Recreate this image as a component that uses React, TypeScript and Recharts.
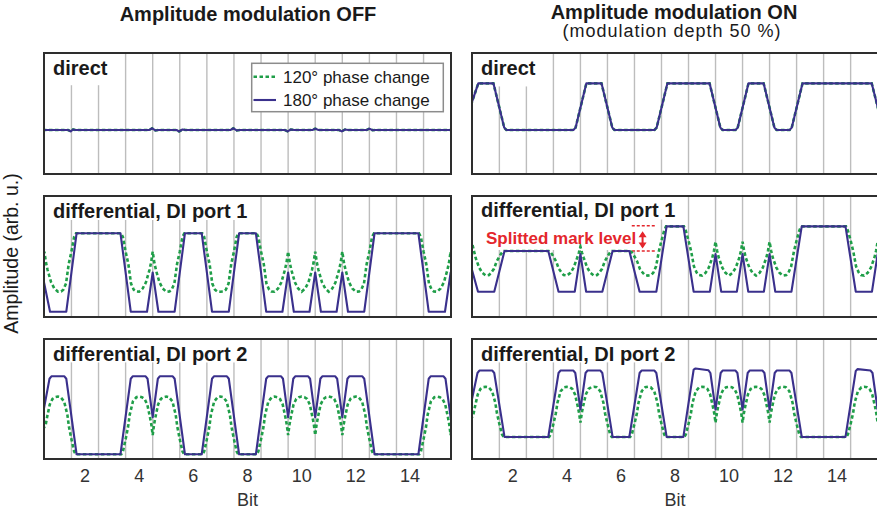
import React from "react";
import { LineChart, Line, XAxis, YAxis, ReferenceLine, ReferenceDot } from "recharts";

type Pt = [number, number];

// bit axis
const bitDomain: [number, number] = [0.45, 15.55];
const bitTicks = [2, 4, 6, 8, 10, 12, 14];
const bitBounds = [1.5, 2.5, 3.5, 4.5, 5.5, 6.5, 7.5, 8.5, 9.5, 10.5, 11.5, 12.5, 13.5, 14.5];

// direct detection, AM off (both phase changes overlap)
const offDirect: Pt[] = [
  [0.45, 0.366], [1.38, 0.366], [1.47, 0.354], [1.56, 0.37], [1.66, 0.366], [4.38, 0.366], [4.48, 0.38],
  [4.6, 0.362], [4.72, 0.366], [5.38, 0.366], [5.48, 0.354], [5.6, 0.37], [5.72, 0.366], [7.38, 0.366],
  [7.48, 0.38], [7.6, 0.362], [7.72, 0.366], [9.38, 0.366], [9.48, 0.355], [9.6, 0.37], [9.72, 0.366],
  [10.4, 0.366], [10.5, 0.377], [10.62, 0.366], [11.38, 0.366], [11.48, 0.355], [11.6, 0.37], [11.72, 0.366],
  [12.4, 0.366], [12.5, 0.377], [12.62, 0.364], [12.74, 0.366], [15.55, 0.366],
];

// direct detection, AM on
const onDirect: Pt[] = [
  [0.45, 0.57], [0.72, 0.745], [1.28, 0.745], [1.68, 0.385], [1.76, 0.366], [4.24, 0.366], [4.32, 0.385],
  [4.72, 0.745], [5.28, 0.745], [5.68, 0.385], [5.76, 0.366], [7.24, 0.366], [7.32, 0.385], [7.72, 0.745],
  [9.28, 0.745], [9.68, 0.385], [9.76, 0.366], [10.24, 0.366], [10.32, 0.385], [10.72, 0.745], [11.28, 0.745],
  [11.68, 0.385], [11.76, 0.366], [12.24, 0.366], [12.32, 0.385], [12.72, 0.745], [15.28, 0.745], [15.55, 0.51],
];

// DI port 1, AM off
const offP1Navy: Pt[] = [
  [0.45, 0.33], [0.71, 0.051], [1.31, 0.051], [1.69, 0.689], [3.31, 0.689], [3.69, 0.051], [4.29, 0.051],
  [4.5, 0.37], [4.71, 0.051], [5.31, 0.051], [5.69, 0.689], [6.31, 0.689], [6.69, 0.051], [7.31, 0.051],
  [7.69, 0.689], [8.31, 0.689], [8.69, 0.051], [9.29, 0.051], [9.5, 0.37], [9.71, 0.051], [10.29, 0.051],
  [10.5, 0.37], [10.71, 0.051], [11.29, 0.051], [11.5, 0.37], [11.71, 0.051], [12.31, 0.051], [12.69, 0.689],
  [14.31, 0.689], [14.69, 0.051], [15.29, 0.051], [15.5, 0.37], [15.55, 0.3],
];
const offP1Green: Pt[] = [
  [0.45, 0.48], [0.5, 0.54], [0.56, 0.45], [0.62, 0.39], [0.75, 0.29], [0.87, 0.24], [1.0, 0.214], [1.12, 0.216],
  [1.2, 0.23], [1.3, 0.28], [1.4, 0.44], [1.5, 0.54], [1.6, 0.66], [1.67, 0.689], [3.33, 0.689], [3.4, 0.66],
  [3.5, 0.54], [3.6, 0.44], [3.7, 0.28], [3.8, 0.23], [3.88, 0.216], [4.0, 0.214], [4.13, 0.24], [4.25, 0.29],
  [4.38, 0.39], [4.44, 0.45], [4.5, 0.54], [4.56, 0.45], [4.62, 0.39], [4.75, 0.29], [4.87, 0.24], [5.0, 0.214],
  [5.12, 0.216], [5.2, 0.23], [5.3, 0.28], [5.4, 0.44], [5.5, 0.54], [5.6, 0.66], [5.67, 0.689], [6.33, 0.689],
  [6.4, 0.66], [6.5, 0.54], [6.6, 0.44], [6.7, 0.28], [6.8, 0.23], [6.88, 0.216], [7.0, 0.214], [7.12, 0.216],
  [7.2, 0.23], [7.3, 0.28], [7.4, 0.44], [7.5, 0.54], [7.6, 0.66], [7.67, 0.689], [8.33, 0.689], [8.4, 0.66],
  [8.5, 0.54], [8.6, 0.44], [8.7, 0.28], [8.8, 0.23], [8.88, 0.216], [9.0, 0.214], [9.13, 0.24], [9.25, 0.29],
  [9.38, 0.39], [9.44, 0.45], [9.5, 0.54], [9.56, 0.45], [9.62, 0.39], [9.75, 0.29], [9.87, 0.24], [10.0, 0.214],
  [10.13, 0.24], [10.25, 0.29], [10.38, 0.39], [10.44, 0.45], [10.5, 0.54], [10.56, 0.45], [10.62, 0.39],
  [10.75, 0.29], [10.87, 0.24], [11.0, 0.214], [11.13, 0.24], [11.25, 0.29], [11.38, 0.39], [11.44, 0.45],
  [11.5, 0.54], [11.56, 0.45], [11.62, 0.39], [11.75, 0.29], [11.87, 0.24], [12.0, 0.214], [12.12, 0.216],
  [12.2, 0.23], [12.3, 0.28], [12.4, 0.44], [12.5, 0.54], [12.6, 0.66], [12.67, 0.689], [14.33, 0.689],
  [14.4, 0.66], [14.5, 0.54], [14.6, 0.44], [14.7, 0.28], [14.8, 0.23], [14.88, 0.216], [15.0, 0.214],
  [15.13, 0.24], [15.25, 0.29], [15.38, 0.39], [15.44, 0.45], [15.5, 0.54], [15.55, 0.46],
];

// DI port 2, AM off
const offP2Navy: Pt[] = [
  [0.45, 0.38], [0.69, 0.666], [0.76, 0.686], [1.24, 0.686], [1.31, 0.666], [1.69, 0.047], [3.31, 0.047],
  [3.69, 0.666], [3.76, 0.686], [4.24, 0.686], [4.31, 0.666], [4.5, 0.35], [4.69, 0.666], [4.76, 0.686],
  [5.24, 0.686], [5.31, 0.666], [5.69, 0.047], [6.31, 0.047], [6.69, 0.666], [6.76, 0.686], [7.24, 0.686],
  [7.31, 0.666], [7.69, 0.047], [8.31, 0.047], [8.69, 0.666], [8.76, 0.686], [9.24, 0.686], [9.31, 0.666],
  [9.5, 0.35], [9.69, 0.666], [9.76, 0.686], [10.24, 0.686], [10.31, 0.666], [10.5, 0.35], [10.69, 0.666],
  [10.76, 0.686], [11.24, 0.686], [11.31, 0.666], [11.5, 0.35], [11.69, 0.666], [11.76, 0.686], [12.24, 0.686],
  [12.31, 0.666], [12.69, 0.047], [14.31, 0.047], [14.69, 0.666], [14.76, 0.686], [15.24, 0.686], [15.31, 0.666],
  [15.5, 0.35], [15.55, 0.43],
];
const offP2Green: Pt[] = [
  [0.45, 0.25], [0.55, 0.29], [0.6, 0.35], [0.7, 0.455], [0.8, 0.5], [0.9, 0.515], [1.0, 0.52], [1.1, 0.515],
  [1.23, 0.48], [1.35, 0.37], [1.41, 0.27], [1.5, 0.17], [1.6, 0.07], [1.66, 0.047], [3.34, 0.047], [3.4, 0.07],
  [3.5, 0.17], [3.59, 0.27], [3.65, 0.37], [3.77, 0.48], [3.9, 0.515], [4.0, 0.52], [4.1, 0.515], [4.2, 0.5],
  [4.3, 0.455], [4.4, 0.35], [4.45, 0.29], [4.5, 0.204], [4.55, 0.29], [4.6, 0.35], [4.7, 0.455], [4.8, 0.5],
  [4.9, 0.515], [5.0, 0.52], [5.1, 0.515], [5.23, 0.48], [5.35, 0.37], [5.41, 0.27], [5.5, 0.17], [5.6, 0.07],
  [5.66, 0.047], [6.34, 0.047], [6.4, 0.07], [6.5, 0.17], [6.59, 0.27], [6.65, 0.37], [6.77, 0.48], [6.9, 0.515],
  [7.0, 0.52], [7.1, 0.515], [7.23, 0.48], [7.35, 0.37], [7.41, 0.27], [7.5, 0.17], [7.6, 0.07], [7.66, 0.047],
  [8.34, 0.047], [8.4, 0.07], [8.5, 0.17], [8.59, 0.27], [8.65, 0.37], [8.77, 0.48], [8.9, 0.515], [9.0, 0.52],
  [9.1, 0.515], [9.2, 0.5], [9.3, 0.455], [9.4, 0.35], [9.45, 0.29], [9.5, 0.204], [9.55, 0.29], [9.6, 0.35],
  [9.7, 0.455], [9.8, 0.5], [9.9, 0.515], [10.0, 0.52], [10.1, 0.515], [10.2, 0.5], [10.3, 0.455], [10.4, 0.35],
  [10.45, 0.29], [10.5, 0.204], [10.55, 0.29], [10.6, 0.35], [10.7, 0.455], [10.8, 0.5], [10.9, 0.515],
  [11.0, 0.52], [11.1, 0.515], [11.2, 0.5], [11.3, 0.455], [11.4, 0.35], [11.45, 0.29], [11.5, 0.204],
  [11.55, 0.29], [11.6, 0.35], [11.7, 0.455], [11.8, 0.5], [11.9, 0.515], [12.0, 0.52], [12.1, 0.515],
  [12.23, 0.48], [12.35, 0.37], [12.41, 0.27], [12.5, 0.17], [12.6, 0.07], [12.66, 0.047], [14.34, 0.047],
  [14.4, 0.07], [14.5, 0.17], [14.59, 0.27], [14.65, 0.37], [14.77, 0.48], [14.9, 0.515], [15.0, 0.52],
  [15.1, 0.515], [15.2, 0.5], [15.3, 0.455], [15.4, 0.35], [15.45, 0.29], [15.5, 0.204], [15.55, 0.29],
];

// DI port 1, AM on
const onP1Navy: Pt[] = [
  [0.45, 0.42], [0.71, 0.214], [1.31, 0.214], [1.69, 0.545], [3.31, 0.545], [3.69, 0.214], [4.29, 0.214],
  [4.5, 0.52], [4.71, 0.214], [5.31, 0.214], [5.69, 0.545], [6.31, 0.545], [6.69, 0.214], [7.31, 0.214],
  [7.69, 0.745], [8.31, 0.745], [8.69, 0.214], [9.29, 0.214], [9.5, 0.52], [9.71, 0.214], [10.29, 0.214],
  [10.5, 0.52], [10.71, 0.214], [11.29, 0.214], [11.5, 0.52], [11.71, 0.214], [12.31, 0.214], [12.69, 0.745],
  [14.31, 0.745], [14.69, 0.214], [15.29, 0.214], [15.5, 0.52], [15.55, 0.44],
];
const onP1Green: Pt[] = [
  [0.45, 0.56], [0.5, 0.6], [0.56, 0.545], [0.62, 0.49], [0.75, 0.41], [0.87, 0.367], [1.0, 0.345], [1.12, 0.35],
  [1.2, 0.37], [1.3, 0.4], [1.4, 0.46], [1.5, 0.5], [1.6, 0.535], [1.67, 0.545], [3.33, 0.545], [3.4, 0.535],
  [3.5, 0.5], [3.6, 0.46], [3.7, 0.4], [3.8, 0.37], [3.88, 0.35], [4.0, 0.345], [4.13, 0.367], [4.25, 0.41],
  [4.38, 0.49], [4.44, 0.53], [4.5, 0.58], [4.56, 0.53], [4.62, 0.49], [4.75, 0.41], [4.87, 0.367], [5.0, 0.345],
  [5.12, 0.35], [5.2, 0.37], [5.3, 0.4], [5.4, 0.46], [5.5, 0.5], [5.6, 0.535], [5.67, 0.545], [6.33, 0.545],
  [6.4, 0.535], [6.5, 0.5], [6.6, 0.46], [6.7, 0.4], [6.8, 0.37], [6.88, 0.35], [7.0, 0.345], [7.12, 0.35],
  [7.2, 0.37], [7.3, 0.42], [7.4, 0.54], [7.5, 0.63], [7.6, 0.71], [7.67, 0.745], [8.33, 0.745], [8.4, 0.71],
  [8.5, 0.63], [8.6, 0.54], [8.7, 0.42], [8.8, 0.37], [8.88, 0.35], [9.0, 0.345], [9.13, 0.367], [9.25, 0.41],
  [9.38, 0.49], [9.44, 0.545], [9.5, 0.62], [9.56, 0.545], [9.62, 0.49], [9.75, 0.41], [9.87, 0.367], [10.0, 0.345],
  [10.13, 0.367], [10.25, 0.41], [10.38, 0.49], [10.44, 0.545], [10.5, 0.62], [10.56, 0.545], [10.62, 0.49],
  [10.75, 0.41], [10.87, 0.367], [11.0, 0.345], [11.13, 0.367], [11.25, 0.41], [11.38, 0.49], [11.44, 0.545],
  [11.5, 0.62], [11.56, 0.545], [11.62, 0.49], [11.75, 0.41], [11.87, 0.367], [12.0, 0.345], [12.12, 0.35],
  [12.2, 0.37], [12.3, 0.42], [12.4, 0.54], [12.5, 0.63], [12.6, 0.71], [12.67, 0.745], [14.33, 0.745],
  [14.4, 0.71], [14.5, 0.63], [14.6, 0.54], [14.7, 0.42], [14.8, 0.37], [14.88, 0.35], [15.0, 0.345],
  [15.13, 0.367], [15.25, 0.41], [15.38, 0.49], [15.44, 0.545], [15.5, 0.62], [15.55, 0.56],
];

// DI port 2, AM on
const onP2Navy: Pt[] = [
  [0.45, 0.46], [0.69, 0.713], [0.76, 0.733], [1.24, 0.733], [1.31, 0.713], [1.69, 0.189], [3.31, 0.189],
  [3.69, 0.713], [3.76, 0.733], [4.24, 0.733], [4.31, 0.713], [4.5, 0.414], [4.69, 0.713], [4.76, 0.733],
  [5.24, 0.733], [5.31, 0.713], [5.69, 0.189], [6.31, 0.189], [6.69, 0.713], [6.76, 0.733], [7.24, 0.733],
  [7.31, 0.713], [7.69, 0.189], [8.31, 0.189], [8.69, 0.74], [8.76, 0.75], [9.24, 0.735], [9.31, 0.713],
  [9.5, 0.414], [9.69, 0.713], [9.76, 0.733], [10.24, 0.733], [10.31, 0.713], [10.5, 0.414], [10.69, 0.713],
  [10.76, 0.733], [11.24, 0.733], [11.31, 0.713], [11.5, 0.414], [11.69, 0.713], [11.76, 0.733], [12.24, 0.733],
  [12.31, 0.713], [12.69, 0.189], [14.31, 0.189], [14.69, 0.73], [14.76, 0.745], [15.24, 0.733], [15.31, 0.713],
  [15.5, 0.414], [15.55, 0.5],
];
const onP2Green: Pt[] = [
  [0.45, 0.33], [0.55, 0.385], [0.6, 0.44], [0.7, 0.538], [0.8, 0.582], [0.9, 0.597], [1.0, 0.6], [1.1, 0.596],
  [1.23, 0.565], [1.35, 0.47], [1.41, 0.383], [1.5, 0.296], [1.6, 0.209], [1.66, 0.189], [3.34, 0.189],
  [3.4, 0.209], [3.5, 0.296], [3.59, 0.383], [3.65, 0.47], [3.77, 0.565], [3.9, 0.596], [4.0, 0.6], [4.1, 0.597],
  [4.2, 0.582], [4.3, 0.538], [4.4, 0.44], [4.45, 0.385], [4.5, 0.306], [4.55, 0.385], [4.6, 0.44], [4.7, 0.538],
  [4.8, 0.582], [4.9, 0.597], [5.0, 0.6], [5.1, 0.596], [5.23, 0.565], [5.35, 0.47], [5.41, 0.383], [5.5, 0.296],
  [5.6, 0.209], [5.66, 0.189], [6.34, 0.189], [6.4, 0.209], [6.5, 0.296], [6.59, 0.383], [6.65, 0.47],
  [6.77, 0.565], [6.9, 0.596], [7.0, 0.6], [7.1, 0.596], [7.23, 0.565], [7.35, 0.47], [7.41, 0.383], [7.5, 0.296],
  [7.6, 0.209], [7.66, 0.189], [8.34, 0.189], [8.4, 0.209], [8.5, 0.296], [8.59, 0.383], [8.65, 0.47],
  [8.77, 0.565], [8.9, 0.596], [9.0, 0.6], [9.1, 0.597], [9.2, 0.582], [9.3, 0.538], [9.4, 0.44], [9.45, 0.385],
  [9.5, 0.306], [9.55, 0.385], [9.6, 0.44], [9.7, 0.538], [9.8, 0.582], [9.9, 0.597], [10.0, 0.6], [10.1, 0.597],
  [10.2, 0.582], [10.3, 0.538], [10.4, 0.44], [10.45, 0.385], [10.5, 0.306], [10.55, 0.385], [10.6, 0.44],
  [10.7, 0.538], [10.8, 0.582], [10.9, 0.597], [11.0, 0.6], [11.1, 0.597], [11.2, 0.582], [11.3, 0.538],
  [11.4, 0.44], [11.45, 0.385], [11.5, 0.306], [11.55, 0.385], [11.6, 0.44], [11.7, 0.538], [11.8, 0.582],
  [11.9, 0.597], [12.0, 0.6], [12.1, 0.596], [12.23, 0.565], [12.35, 0.47], [12.41, 0.383], [12.5, 0.296],
  [12.6, 0.209], [12.66, 0.189], [14.34, 0.189], [14.4, 0.209], [14.5, 0.296], [14.59, 0.383], [14.65, 0.47],
  [14.77, 0.565], [14.9, 0.596], [15.0, 0.6], [15.1, 0.597], [15.2, 0.582], [15.3, 0.538], [15.4, 0.44],
  [15.45, 0.385], [15.5, 0.306], [15.55, 0.385],
];

const NAVY = "#3a308c";
const GREEN = "#1f9e48";
const RED = "#e4262c";
const FONT = "'Liberation Sans', Arial, Helvetica, sans-serif";

const toRows = (pts: Pt[]) => pts.map(([x, y]) => ({ x, y }));

interface PanelProps {
  left: number;
  top: number;
  width: number;
  height: number;
  navy: Pt[];
  green: Pt[];
  caps: Array<[number, number]>; // gridlines left of x stop at y (under the labels)
  showAxis?: boolean;
  children?: React.ReactNode;
}

function Panel({ left, top, width, height, navy, green, caps, showAxis = false, children }: PanelProps) {
  const axisH = showAxis ? 53 : 0;
  const capFor = (x: number) => {
    for (const [xm, yt] of caps) if (x < xm) return yt;
    return 1;
  };
  return (
    <div style={{ position: "absolute", left, top, width, height: height + axisH }}>
      <LineChart width={width} height={height + axisH} margin={{ top: 0, right: 0, bottom: 0, left: 0 }}>
        <XAxis
          type="number"
          dataKey="x"
          domain={bitDomain}
          allowDataOverflow
          ticks={bitTicks}
          interval={0}
          hide={!showAxis}
          height={axisH}
          axisLine={false}
          tickLine={false}
          tickMargin={3}
          tick={{ fontSize: 18, fill: "#333" }}
          label={showAxis ? { value: "Bit", position: "insideBottom", offset: 7, fontSize: 18, fill: "#333" } : undefined}
        />
        <YAxis type="number" domain={[0, 1]} hide allowDataOverflow />
        {bitBounds.map((b) => (
          <ReferenceLine
            key={b}
            segment={[{ x: b, y: 0 }, { x: b, y: capFor(b) }]}
            stroke="#bdbdbd"
            strokeWidth={1.4}
          />
        ))}
        {children}
        <Line
          data={toRows(green)}
          dataKey="y"
          type="linear"
          stroke={GREEN}
          strokeWidth={2.6}
          strokeDasharray="3.5 2.5"
          dot={false}
          isAnimationActive={false}
        />
        <Line
          data={toRows(navy)}
          dataKey="y"
          type="linear"
          stroke={NAVY}
          strokeWidth={2.1}
          strokeLinejoin="round"
          dot={false}
          isAnimationActive={false}
        />
      </LineChart>
      <div
        style={{
          position: "absolute",
          left: 0,
          top: 0,
          width,
          height,
          border: "2px solid #2e2e2e",
          boxSizing: "border-box",
          pointerEvents: "none",
        }}
      />
    </div>
  );
}

const arrowUp = (p: any) => <path d={`M${p.cx},${p.cy}L${p.cx - 4},${p.cy + 6}L${p.cx + 4},${p.cy + 6}Z`} fill={RED} />;
const arrowDown = (p: any) => <path d={`M${p.cx},${p.cy}L${p.cx - 4},${p.cy - 6}L${p.cx + 4},${p.cy - 6}Z`} fill={RED} />;

export default function App() {
  const L = 43;
  const R = 471;
  const W = 409;
  const rows = [52, 195, 338];
  const labelStyle = { fontSize: 20, fontWeight: 700, fill: "#1a1a1a" } as const;
  return (
    <div
      style={{
        position: "absolute",
        left: 0,
        top: 0,
        width: 877,
        height: 516,
        overflow: "hidden",
        background: "#fff",
        fontFamily: FONT,
      }}
    >
      <Panel left={L} top={rows[0]} width={W} height={123} navy={offDirect} green={offDirect} caps={[[3, 0.73]]} />
      <Panel left={L} top={rows[1]} width={W} height={123} navy={offP1Navy} green={offP1Green} caps={[[8, 0.797]]} />
      <Panel left={L} top={rows[2]} width={W} height={122} navy={offP2Navy} green={offP2Green} caps={[[8, 0.8]]} showAxis />

      <Panel left={R} top={rows[0]} width={408} height={123} navy={onDirect} green={onDirect} caps={[[3, 0.72]]} />
      <Panel
        left={R}
        top={rows[1]}
        width={408}
        height={123}
        navy={onP1Navy}
        green={onP1Green}
        caps={[[7, 0.553], [8, 0.8]]}
      >
        <ReferenceLine segment={[{ x: 6.4, y: 0.75 }, { x: 7.32, y: 0.75 }]} stroke={RED} strokeWidth={1.6} strokeDasharray="3 2" />
        <ReferenceLine segment={[{ x: 6.4, y: 0.545 }, { x: 7.32, y: 0.545 }]} stroke={RED} strokeWidth={1.6} strokeDasharray="3 2" />
        <ReferenceLine segment={[{ x: 6.8, y: 0.69 }, { x: 6.8, y: 0.58 }]} stroke={RED} strokeWidth={2} />
        <ReferenceDot x={6.8} y={0.705} r={3} shape={arrowUp} />
        <ReferenceDot x={6.8} y={0.565} r={3} shape={arrowDown} />
      </Panel>
      <Panel left={R} top={rows[2]} width={408} height={122} navy={onP2Navy} green={onP2Green} caps={[[8, 0.8]]} showAxis />

      <svg
        width={877}
        height={516}
        style={{ position: "absolute", left: 0, top: 0, pointerEvents: "none", fontFamily: FONT }}
      >
        <text x={248} y={21} textAnchor="middle" {...labelStyle}>Amplitude modulation OFF</text>
        <text x={674} y={18.5} textAnchor="middle" {...labelStyle}>Amplitude modulation ON</text>
        <text x={672} y={37} textAnchor="middle" fontSize={18} fill="#1a1a1a" letterSpacing={1}>
          (modulation depth 50 %)
        </text>
        <text transform="translate(17.5,253.5) rotate(-90)" textAnchor="middle" fontSize={19.5} fill="#1a1a1a">
          Amplitude (arb. u.)
        </text>

        <text x={53} y={75} {...labelStyle}>direct</text>
        <text x={53} y={218} {...labelStyle}>differential, DI port 1</text>
        <text x={53} y={361} {...labelStyle}>differential, DI port 2</text>
        <text x={481} y={75} {...labelStyle}>direct</text>
        <text x={481} y={217} {...labelStyle}>differential, DI port 1</text>
        <text x={481} y={361} {...labelStyle}>differential, DI port 2</text>

        <text x={486} y={243.5} fontSize={17} fontWeight={700} fill={RED}>Splitted mark level</text>

        <g>
          <rect x={251.7} y={63.3} width={191.6} height={48.4} fill="#fff" stroke="#8c8c8c" strokeWidth={1.5} />
          <line x1={253.5} x2={276} y1={76.7} y2={76.7} stroke={GREEN} strokeWidth={2.6} strokeDasharray="3.5 2.5" />
          <text x={283} y={82.5} fontSize={17} fill="#1a1a1a">120° phase change</text>
          <line x1={253.5} x2={276} y1={100} y2={100} stroke={NAVY} strokeWidth={2.1} />
          <text x={283} y={106} fontSize={17} fill="#1a1a1a">180° phase change</text>
        </g>
      </svg>
    </div>
  );
}
